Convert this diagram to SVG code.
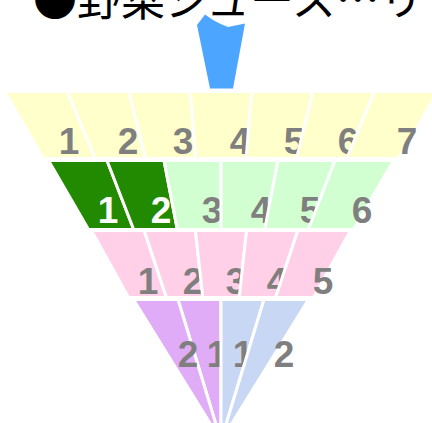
<svg xmlns="http://www.w3.org/2000/svg" width="432" height="423" viewBox="0 0 432 423">
<style>
.s{stroke:#ffffff;stroke-width:3;stroke-linejoin:round}
.y{fill:#ffffcc}.g{fill:#d2ffd2}.d{fill:#228a00}.p{fill:#ffd0e8}.v{fill:#e0acf8}.b{fill:#c8d8f4}
.t{font-family:"Liberation Sans",Arial,sans-serif;font-weight:bold;font-size:37px;fill:#7f7f7f;text-anchor:middle}
.w{fill:#ffffff}
.h{font-family:"Noto Sans CJK JP","Noto Sans",sans-serif;font-size:44px;fill:#000000}
</style>
<rect width="432" height="423" fill="#ffffff"/>
<text class="h" x="33" y="16">●野菜ジュース…リ</text>
<g id="arrow">
<path d="M197,25 L205,14.5 L213,20 Q220,24 228,27 L245,23.5 L233,88.5 L210,88.5 Z" fill="#4ca6ff"/>
</g>
<g id="connectors"></g>
<g id="row1">
<g id="r1s1"><polygon class="s y" points="4.5,91.5 67.4,91.5 95.3,158.5 43.5,158.5"/><text class="t" x="69" y="154">1</text></g>
<g id="r1s2"><polygon class="s y" points="67.4,91.5 128.9,91.5 145.6,158.5 95.3,158.5"/><text class="t" x="128" y="154">2</text></g>
<g id="r1s3"><polygon class="s y" points="128.9,91.5 190.3,91.5 195.9,158.5 145.6,158.5"/><text class="t" x="183" y="154">3</text></g>
<g id="r1s4"><polygon class="s y" points="190.3,91.5 251.7,91.5 246.1,158.5 195.9,158.5"/><text class="t" x="240" y="154">4</text></g>
<g id="r1s5"><polygon class="s y" points="251.7,91.5 313.1,91.5 296.4,158.5 246.1,158.5"/><text class="t" x="294" y="154">5</text></g>
<g id="r1s6"><polygon class="s y" points="313.1,91.5 374.6,91.5 346.7,158.5 296.4,158.5"/><text class="t" x="348" y="154">6</text></g>
<g id="r1s7"><polygon class="s y" points="374.6,91.5 438,91.5 398.5,158.5 346.7,158.5"/><text class="t" x="407" y="154">7</text></g>
</g>
<g id="row2">
<g id="r2s1"><polygon class="s d" points="48.5,160.5 107,160.5 133.7,229.5 88.5,229.5"/><text class="t w" x="108" y="223">1</text></g>
<g id="r2s2"><polygon class="s d" points="107,160.5 164,160.5 177.3,229.5 133.7,229.5"/><text class="t w" x="161" y="223">2</text></g>
<g id="r2s3"><polygon class="s g" points="164,160.5 221,160.5 221,229.5 177.3,229.5"/><text class="t" x="212" y="223">3</text></g>
<g id="r2s4"><polygon class="s g" points="221,160.5 278,160.5 264.7,229.5 221,229.5"/><text class="t" x="261" y="223">4</text></g>
<g id="r2s5"><polygon class="s g" points="278,160.5 335,160.5 308.3,229.5 264.7,229.5"/><text class="t" x="310" y="223">5</text></g>
<g id="r2s6"><polygon class="s g" points="335,160.5 393.5,160.5 353.5,229.5 308.3,229.5"/><text class="t" x="362" y="223">6</text></g>
</g>
<g id="row3">
<g id="r3s1"><polygon class="s p" points="91.5,230.5 144.2,230.5 166.4,297.5 128.5,297.5"/><text class="t" x="148" y="294">1</text></g>
<g id="r3s2"><polygon class="s p" points="144.2,230.5 195.4,230.5 202.8,297.5 166.4,297.5"/><text class="t" x="193" y="294">2</text></g>
<g id="r3s3"><polygon class="s p" points="195.4,230.5 246.6,230.5 239.2,297.5 202.8,297.5"/><text class="t" x="236" y="294">3</text></g>
<g id="r3s4"><polygon class="s p" points="246.6,230.5 297.8,230.5 275.6,297.5 239.2,297.5"/><text class="t" x="277" y="294">4</text></g>
<g id="r3s5"><polygon class="s p" points="297.8,230.5 350.5,230.5 313.5,297.5 275.6,297.5"/><text class="t" x="323" y="294">5</text></g>
</g>
<g id="row4">
<g id="r4s2"><polygon class="s v" points="178,299.5 221,299.5 221,441"/><text class="t" x="217" y="367">1</text></g>
<g id="r4s1"><polygon class="s v" points="133.5,299.5 178,299.5 221,441"/><text class="t" x="188" y="367">2</text></g>
<g id="r4s3"><polygon class="s b" points="221,299.5 264,299.5 221,441"/><text class="t" x="243" y="367">1</text></g>
<g id="r4s4"><polygon class="s b" points="264,299.5 308.5,299.5 221,441"/><text class="t" x="284" y="367">2</text></g>
</g>
</svg>
